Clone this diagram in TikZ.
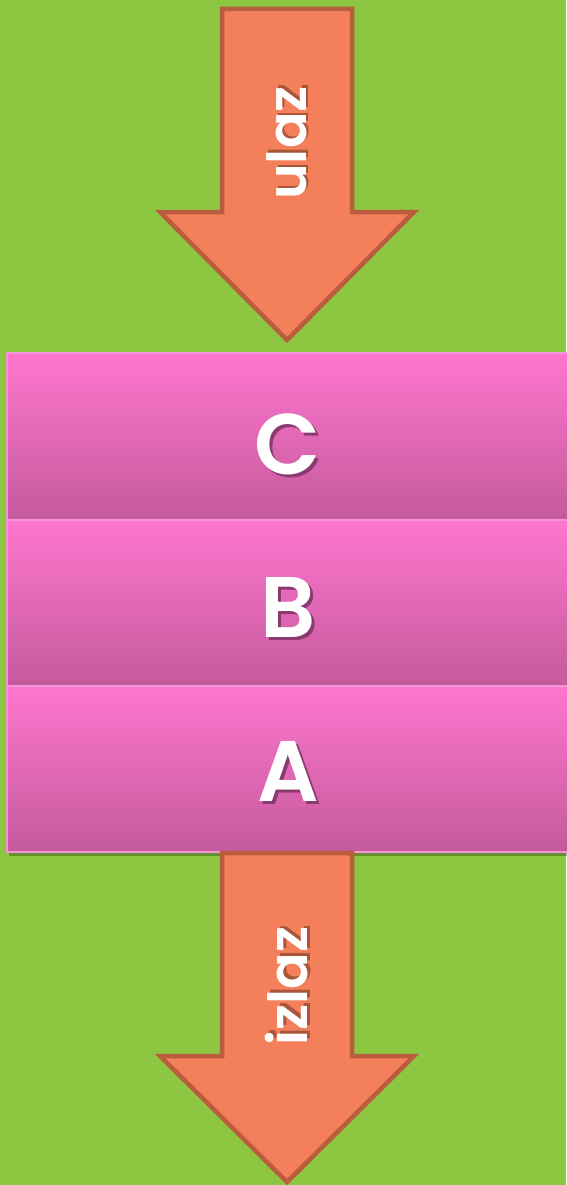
\documentclass[tikz,border=0pt]{standalone}
\usepackage{fontspec}
\newfontfamily\pop{Poppins}[BoldFont={Poppins SemiBold}]
\definecolor{bggreen}{HTML}{8DC641}
\definecolor{arrfill}{HTML}{F47F5B}
\definecolor{arrline}{HTML}{BA5C3E}
\definecolor{pinktop}{HTML}{FF76CE}
\definecolor{pinkbot}{HTML}{C45A9C}
\definecolor{pinkline}{HTML}{F296D8}
\definecolor{shadowpink}{HTML}{8A3A6E}
\definecolor{shadoworange}{HTML}{A8553A}
\newcommand{\shadowed}[3]{\rlap{\hspace{#1}\raisebox{-#1}{\textcolor{#2}{#3}}}#3}
\tikzset{
  arrowshape/.style={fill=arrfill,draw=arrline,line width=4.5pt,line join=miter},
  layerbox/.style={top color=pinktop,bottom color=pinkbot,draw=pinkline,line width=1.5pt},
  boxshadow/.style={fill=black,opacity=0.28},
  bigletter/.style={text=white,font=\pop\bfseries\fontsize{86}{86}\selectfont,inner sep=0pt},
  arrowtext/.style={text=white,font=\pop\bfseries\fontsize{54}{54}\selectfont,inner sep=0pt,rotate=90}
}
\begin{document}
\begin{tikzpicture}[x=1pt,y=-1pt]
\useasboundingbox (0,0) rectangle (566,1185);
\fill[bggreen] (0,0) rectangle (566,1185);
% top arrow
\draw[arrowshape] (222,9) -- (352,9) -- (352,212) -- (414,212) -- (287,340) -- (160,212) -- (222,212) -- cycle;
\node[arrowtext] (ulaz) at (288,143) {\shadowed{2.5pt}{shadoworange}{ulaz}};
% boxes
\foreach \t/\b in {353/520,520/686,686/852}{
  \fill[boxshadow] (9,\t+4) rectangle (570,\b+4);
  \draw[layerbox] (7,\t) rectangle (570,\b);
}
\node[bigletter] (C) at (288,446) {\shadowed{3pt}{shadowpink}{C}};
\node[bigletter] (B) at (288,609) {\shadowed{3pt}{shadowpink}{B}};
\node[bigletter] (A) at (288,773) {\shadowed{3pt}{shadowpink}{A}};
% bottom arrow
\draw[arrowshape] (222,853) -- (352,853) -- (352,1056) -- (414,1056) -- (287,1182) -- (160,1056) -- (222,1056) -- cycle;
\node[arrowtext] (izlaz) at (288,986) {\shadowed{2.5pt}{shadoworange}{izlaz}};
\end{tikzpicture}
\end{document}
